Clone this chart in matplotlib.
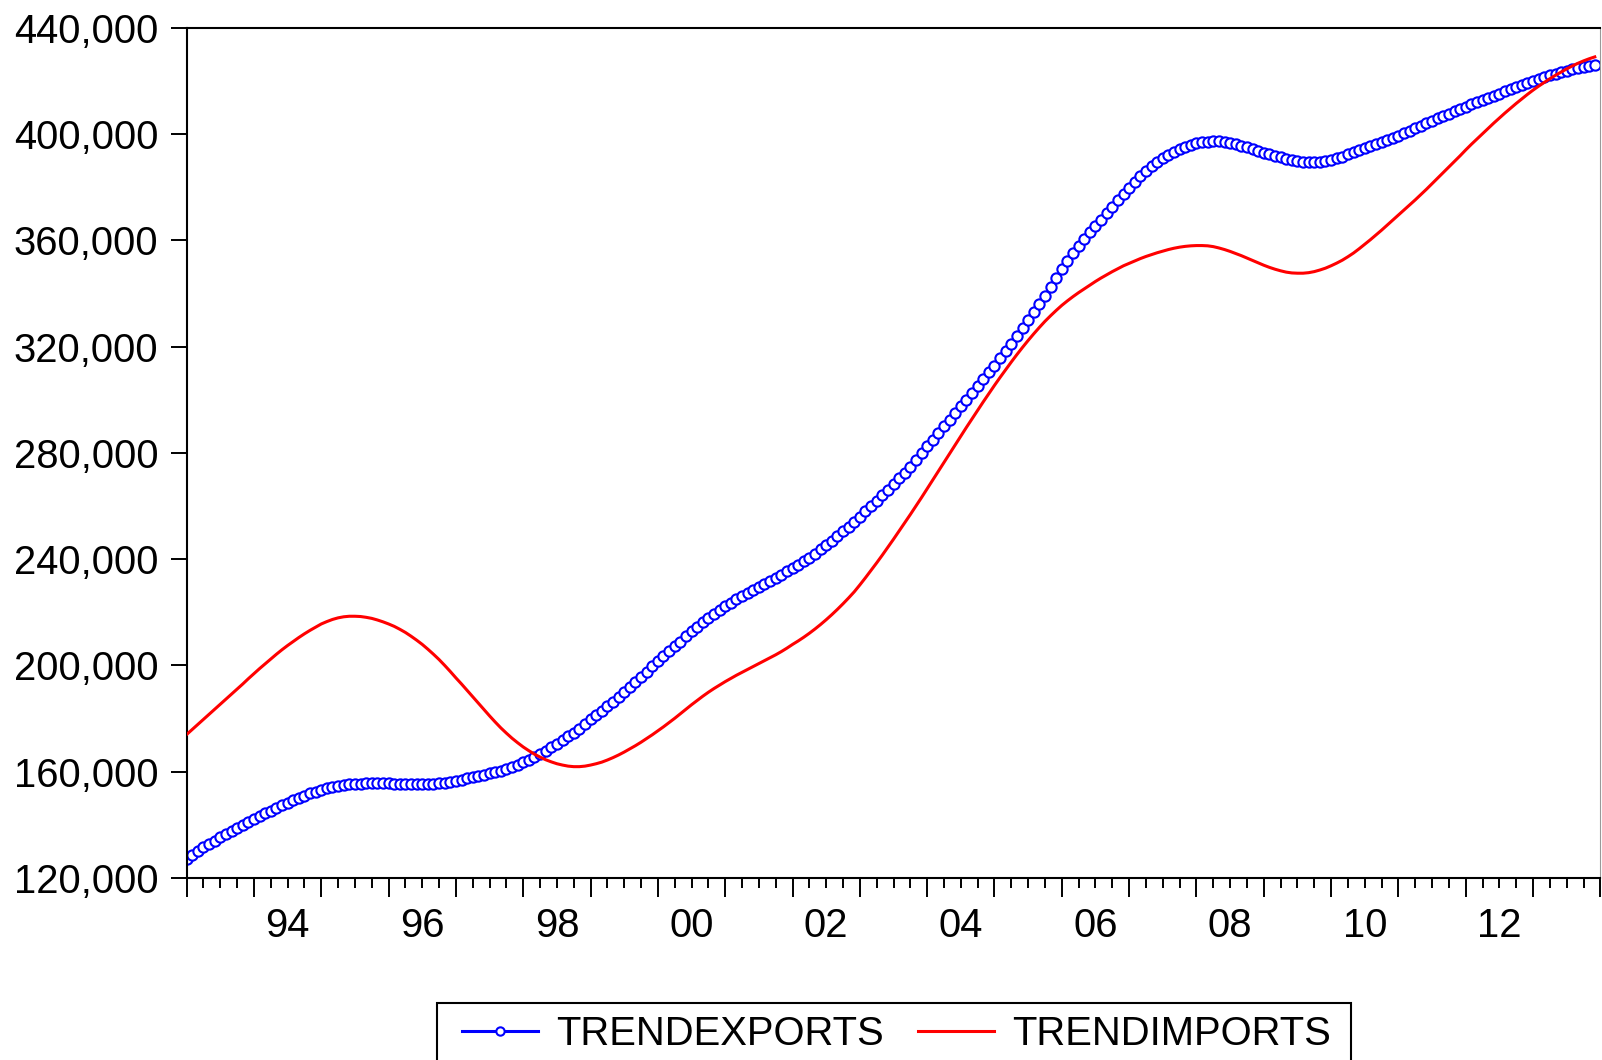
import matplotlib
matplotlib.use("Agg")
import matplotlib.pyplot as plt
from matplotlib.patches import Rectangle
from matplotlib.ticker import FuncFormatter, MultipleLocator
import numpy as np

# Serie mensual, 1993M01 - 2013M12 (miles)
start_year = 1993
trend_exports = [
    127.0, 128.5, 130.0, 131.5, 132.8, 134.1, 135.3, 136.5, 137.8, 139.0, 140.1, 141.2,
    142.3, 143.3, 144.3, 145.3, 146.3, 147.3, 148.3, 149.2, 150.1, 151.0, 151.8, 152.5,
    153.1, 153.7, 154.2, 154.6, 154.9, 155.2, 155.4, 155.5, 155.6, 155.6, 155.6, 155.6,
    155.6, 155.5, 155.4, 155.3, 155.3, 155.3, 155.3, 155.4, 155.5, 155.6, 155.9, 156.2,
    156.5, 157.0, 157.5, 158.0, 158.4, 158.9, 159.4, 159.9, 160.4, 161.0, 161.8, 162.6,
    163.5, 164.4, 165.4, 166.6, 167.9, 169.3, 170.6, 172.0, 173.4, 174.7, 176.0, 177.8,
    179.8, 181.4, 183.0, 184.7, 186.4, 188.2, 190.0, 191.9, 193.8, 195.8, 197.7, 199.6,
    201.6, 203.5, 205.4, 207.2, 208.9, 210.9, 212.9, 214.6, 216.2, 217.8, 219.3, 220.8,
    222.2, 223.5, 224.9, 226.2, 227.3, 228.4, 229.5, 230.7, 231.8, 233.0, 234.2, 235.4,
    236.6, 237.9, 239.2, 240.6, 242.1, 243.7, 245.3, 247.0, 248.7, 250.4, 252.2, 254.1,
    256.0, 258.0, 260.0, 262.0, 264.1, 266.2, 268.3, 270.4, 272.5, 274.7, 277.2, 279.8,
    282.5, 285.0, 287.5, 290.0, 292.5, 295.0, 297.5, 300.0, 302.6, 305.2, 307.8, 310.3,
    312.8, 315.5, 318.3, 321.1, 324.0, 327.0, 330.0, 333.0, 336.0, 339.1, 342.4, 345.8,
    349.2, 352.3, 355.2, 357.9, 360.5, 363.0, 365.4, 367.8, 370.2, 372.6, 375.0, 377.4,
    379.7, 381.9, 384.0, 386.0, 387.8, 389.4, 390.9, 392.2, 393.3, 394.3, 395.2, 396.0,
    396.6, 396.9, 397.1, 397.2, 397.2, 397.0, 396.6, 396.2, 395.6, 395.0, 394.3, 393.6,
    393.0, 392.4, 391.8, 391.2, 390.6, 390.1, 389.7, 389.4, 389.3, 389.3, 389.5, 389.8,
    390.2, 390.8, 391.5, 392.3, 393.1, 393.9, 394.7, 395.5, 396.2, 397.0, 397.8, 398.6,
    399.4, 400.4, 401.3, 402.2, 403.1, 404.1, 405.0, 405.9, 406.8, 407.6, 408.5, 409.4,
    410.2, 411.1, 411.9, 412.8, 413.6, 414.4, 415.2, 416.0, 416.8, 417.6, 418.3, 419.1,
    419.8, 420.5, 421.3, 422.0, 422.6, 423.2, 423.8, 424.3, 424.8, 425.2, 425.6, 426.0,
]
trend_imports = [
    174.0, 175.9, 177.8, 179.7, 181.6, 183.5, 185.4, 187.3, 189.2, 191.1, 193.0, 195.0,
    196.9, 198.8, 200.6, 202.4, 204.2, 205.9, 207.5, 209.0, 210.5, 211.9, 213.2, 214.4,
    215.6, 216.5, 217.3, 217.9, 218.3, 218.5, 218.5, 218.4, 218.1, 217.7, 217.1, 216.4,
    215.6, 214.7, 213.6, 212.4, 211.0, 209.5, 207.9, 206.1, 204.2, 202.2, 200.0, 197.7,
    195.3, 193.0, 190.6, 188.2, 185.8, 183.4, 181.0, 178.7, 176.5, 174.5, 172.6, 170.9,
    169.3, 167.9, 166.6, 165.5, 164.5, 163.7, 163.0, 162.5, 162.1, 161.9, 161.9, 162.1,
    162.5, 163.0, 163.6, 164.4, 165.3, 166.3, 167.4, 168.6, 169.8, 171.1, 172.5, 173.9,
    175.4, 176.9, 178.5, 180.1, 181.8, 183.5, 185.2, 186.8, 188.4, 189.9, 191.3, 192.6,
    193.9, 195.1, 196.3, 197.4, 198.5, 199.6, 200.7, 201.8, 202.9, 204.0, 205.2, 206.5,
    207.9, 209.2, 210.6, 212.1, 213.7, 215.4, 217.2, 219.1, 221.1, 223.2, 225.4, 227.7,
    230.3, 233.0, 235.8, 238.6, 241.5, 244.5, 247.5, 250.6, 253.7, 256.8, 260.0, 263.2,
    266.5, 269.8, 273.1, 276.4, 279.7, 283.0, 286.3, 289.6, 292.8, 296.0, 299.2, 302.3,
    305.4, 308.4, 311.3, 314.2, 317.0, 319.7, 322.3, 324.8, 327.2, 329.5, 331.6, 333.6,
    335.5, 337.2, 338.8, 340.3, 341.7, 343.1, 344.5, 345.8, 347.0, 348.2, 349.3, 350.4,
    351.3, 352.2, 353.1, 353.9, 354.6, 355.3, 355.9, 356.5, 357.0, 357.4, 357.7, 357.9,
    358.0, 358.0, 357.9, 357.6, 357.1, 356.5, 355.8, 355.0, 354.2, 353.3, 352.4, 351.5,
    350.6, 349.8, 349.1, 348.5, 348.0, 347.7, 347.6, 347.6, 347.8, 348.2, 348.8, 349.5,
    350.4, 351.4, 352.5, 353.8, 355.2, 356.8, 358.5, 360.2, 362.0, 363.8, 365.7, 367.6,
    369.5, 371.4, 373.3, 375.2, 377.2, 379.2, 381.3, 383.4, 385.5, 387.6, 389.7, 391.8,
    394.0, 396.1, 398.1, 400.1, 402.1, 404.1, 406.0, 407.9, 409.7, 411.5, 413.2, 414.9,
    416.5, 418.0, 419.4, 420.8, 422.1, 423.3, 424.5, 425.6, 426.6, 427.5, 428.3, 429.0,
]
year_labels = ["94", "96", "98", "00", "02", "04", "06", "08", "10", "12"]
label_years = [1994, 1996, 1998, 2000, 2002, 2004, 2006, 2008, 2010, 2012]
y_ticks = [120000, 160000, 200000, 240000, 280000, 320000, 360000, 400000, 440000]

plt.rcParams["font.family"] = ["Liberation Sans", "DejaVu Sans"]

exports = np.array(trend_exports) * 1000
imports = np.array(trend_imports) * 1000
t = start_year + np.arange(len(exports)) / 12.0

W, H = 1602, 1060
fig = plt.figure(figsize=(W / 100, H / 100), dpi=100)
ax = fig.add_axes([0.1165, 0.1717, 0.8825, 0.8022])

ax.plot(t, exports, color="#0000FF", linewidth=1.4, marker="o", markersize=7.4,
        markerfacecolor="white", markeredgecolor="#0000FF", markeredgewidth=1.5,
        label="TRENDEXPORTS", zorder=2)
ax.plot(t, imports, color="#FF0000", linewidth=2.2, label="TRENDIMPORTS", zorder=3)

ax.set_xlim(start_year, start_year + 21)
ax.set_ylim(120000, 440000)

ax.set_yticks(y_ticks)
ax.yaxis.set_major_formatter(FuncFormatter(lambda v, p: "{:,}".format(int(v))))
ax.tick_params(axis="y", direction="out", length=11.5, width=1.4, pad=9,
               labelsize=28.8, colors="black")

ax.xaxis.set_major_locator(MultipleLocator(1))
ax.xaxis.set_minor_locator(MultipleLocator(0.25))
ax.tick_params(axis="x", which="major", direction="out", length=13.5, width=1.4,
               labelbottom=False)
ax.tick_params(axis="x", which="minor", direction="out", length=7, width=1.4)

# etiquetas de año centradas en el año
for yr, lab in zip(label_years, year_labels):
    ax.annotate(lab, xy=(yr + 0.5, 0), xycoords=("data", "axes fraction"),
                xytext=(0, -21), textcoords="offset points",
                ha="center", va="top", fontsize=28.8)

for side in ["left", "bottom", "top"]:
    ax.spines[side].set_linewidth(1.5)
    ax.spines[side].set_color("black")
ax.spines["right"].set_linewidth(0.8)
ax.spines["right"].set_color("#999999")

# leyenda sin marco + caja dibujada aparte (cortada por el borde inferior)
leg = ax.legend(loc="upper left", bbox_to_anchor=(449.5 / W, 1 - 1002 / H),
                bbox_transform=fig.transFigure, ncol=2, fontsize=28.8, frameon=False,
                numpoints=1, handlelength=1.9, handletextpad=0.45,
                columnspacing=0.85, borderpad=0.32, borderaxespad=0)
for h in leg.legend_handles:
    h.set_markersize(6)
    h.set_linewidth(2.2)
box = Rectangle((437 / W, -0.05), (1351 - 437) / W, 0.05 + (1 - 1002.5 / H),
                transform=fig.transFigure, fill=False, edgecolor="black",
                linewidth=1.5, clip_on=False)
fig.patches.append(box)

fig.savefig("out.png", dpi=100)
